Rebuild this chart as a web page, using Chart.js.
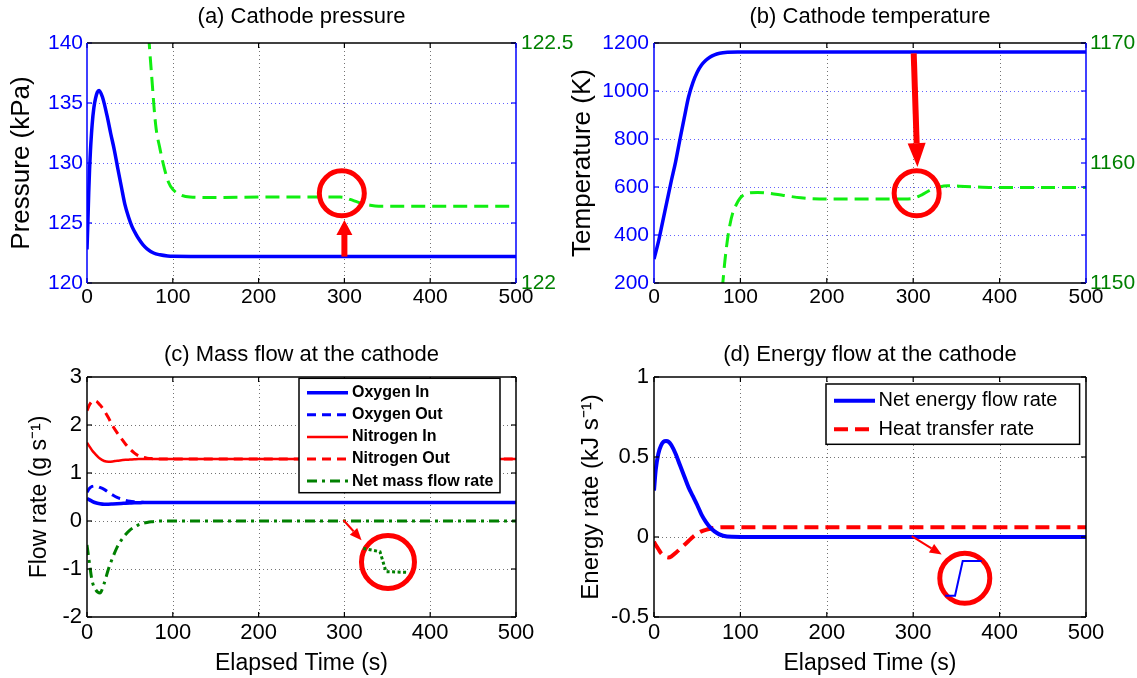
<!DOCTYPE html>
<html lang="en">
<head>
<meta charset="utf-8">
<script src="https://cdn.jsdelivr.net/npm/chart.js"></script>
<style>
  body { margin: 0; background: #fff; }
  #wrap { position: relative; width: 1137px; height: 678px; overflow: hidden; background: #fff; }
  canvas { position: absolute; }
</style>
</head>
<body>
<div id="wrap">
  <canvas id="chartA" width="600" height="339" style="left:0;top:0"></canvas>
  <canvas id="chartB" width="577" height="339" style="left:560px;top:0"></canvas>
  <canvas id="chartC" width="568" height="339" style="left:0;top:339px"></canvas>
  <canvas id="chartD" width="577" height="339" style="left:560px;top:339px"></canvas>
</div>
<script>
// (a) cathode pressure
const timeP = [0,1,2,3,4,6,8,10,12,14,18,23.5,27.5,31.8,36,40.1,44,48.4,52.5,56.8,61,65.1,70,77.6,85,94,100,150,200,250,300,350,400,450,500];
const pressureKPa = [122.8,125,127.5,129.5,131,133.2,134.6,135.4,135.9,136.05,135.5,133.9,132.5,131.1,129.5,128.0,126.6,125.5,124.7,124.1,123.6,123.2,122.85,122.5,122.35,122.25,122.22,122.2,122.2,122.2,122.2,122.2,122.2,122.2,122.2];
const timePz = [70,75,80,85,90,95,100,110,120,150,200,250,295,300,310,320,330,340,400,450,500];
const pressureZoom = [122.56,122.44,122.33,122.28,122.24,122.21,122.195,122.183,122.179,122.178,122.179,122.179,122.179,122.178,122.172,122.166,122.162,122.16,122.16,122.16,122.16];

// (b) cathode temperature
const timeT = [0,5,10,15,20,25,30,35,40,45,50,55,60,65,70,76,85,97,110,150,200,250,300,350,400,450,500];
const temperatureK = [300,370,455,540,625,705,798,888,975,1035,1078,1108,1128,1142,1151,1157,1161,1163,1163,1163,1163,1163,1163,1163,1163,1163,1163];
const timeTz = [79,82,85,88,91,95,100,105,110,120,130,150,170,200,250,290,300,310,320,330,340,360,400,450,500];
const temperatureZoom = [1149.5,1151.8,1153.6,1154.9,1155.8,1156.5,1157.1,1157.4,1157.5,1157.55,1157.5,1157.3,1157.1,1157.0,1157.0,1157.0,1157.05,1157.35,1157.75,1158.0,1158.1,1158.05,1157.95,1157.95,1157.95];

// (c) mass flow
const timeF = [0,3,6,10,15,20,25,30,35,40,45,50,55,60,65,70,75,80,90,100,150,200,250,300,350,400,450,500];
const oxygenIn = [0.47,0.44,0.41,0.38,0.36,0.35,0.35,0.355,0.36,0.365,0.37,0.375,0.38,0.38,0.385,0.385,0.385,0.385,0.385,0.385,0.385,0.385,0.385,0.385,0.385,0.385,0.385,0.385];
const oxygenOut = [0.6,0.68,0.72,0.73,0.7,0.66,0.6,0.54,0.49,0.46,0.43,0.41,0.4,0.395,0.39,0.385,0.385,0.385,0.385,0.385,0.385,0.385,0.385,0.385,0.385,0.385,0.385,0.385];
const nitrogenIn = [1.63,1.55,1.47,1.39,1.3,1.25,1.235,1.24,1.255,1.265,1.275,1.28,1.285,1.29,1.29,1.29,1.29,1.29,1.29,1.29,1.29,1.29,1.29,1.29,1.29,1.29,1.29,1.29];
const nitrogenOut = [2.3,2.42,2.49,2.5,2.42,2.3,2.15,1.98,1.84,1.72,1.6,1.5,1.42,1.36,1.33,1.31,1.3,1.295,1.29,1.29,1.29,1.29,1.29,1.29,1.29,1.29,1.29,1.29];
const netMassFlow = [-0.5,-0.9,-1.25,-1.43,-1.5,-1.3,-1.0,-0.76,-0.55,-0.4,-0.28,-0.19,-0.13,-0.08,-0.05,-0.03,-0.015,-0.005,0,0,0,0,0,0,0,0,0,0];

// (d) energy flow
const timeE = [0,2,5,8,11,14,17,20,25,30,35,40,45,50,55,60,65,70,75,80,90,100,150,200,250,300,350,400,450,500];
const netEnergy = [0.29,0.42,0.52,0.57,0.595,0.6,0.595,0.575,0.52,0.45,0.38,0.31,0.255,0.2,0.14,0.095,0.06,0.035,0.018,0.008,0.001,0,0,0,0,0,0,0,0,0];
const heatTransfer = [-0.03,-0.05,-0.075,-0.1,-0.115,-0.125,-0.128,-0.122,-0.1,-0.075,-0.05,-0.025,0,0.02,0.035,0.045,0.052,0.057,0.06,0.061,0.061,0.061,0.061,0.061,0.061,0.061,0.061,0.061,0.061,0.061];

Chart.defaults.font.family = '"Liberation Sans", Arial, Helvetica, sans-serif';
const FAMILY = Chart.defaults.font.family;
const BLUE = '#0000ff', RED = '#ff0000', LIME = '#11ee11', DKGREEN = '#008000';

function series(times, values) {
  return times.map((t, i) => ({ x: t, y: values[i] }));
}
function lineSet(label, times, values, color, width, dash, axis) {
  return {
    label: label, data: series(times, values), borderColor: color, borderWidth: width,
    borderDash: dash || [], pointRadius: 0, fill: false, cubicInterpolationMode: 'monotone',
    borderCapStyle: 'butt', yAxisID: axis || 'y'
  };
}
function line(ctx, x1, y1, x2, y2) {
  ctx.beginPath(); ctx.moveTo(x1, y1); ctx.lineTo(x2, y2); ctx.stroke();
}

function axisX(size, pad, height, title) {
  const ax = {
    type: 'linear', min: 0, max: 500,
    ticks: { stepSize: 100, font: { size: size }, color: '#000', padding: pad, maxRotation: 0, autoSkip: false, callback: v => String(v) },
    grid: { display: false, drawTicks: false }, border: { display: false },
    afterFit(s) { s.height = height; }
  };
  if (title) ax.title = { display: true, text: title, font: { size: 23 }, color: '#000', padding: { top: 0, bottom: 1 } };
  return ax;
}
function axisY(pos, min, max, step, color, size, pad, width, title, titleSize, titlePad) {
  const ax = {
    type: 'linear', position: pos, min: min, max: max,
    ticks: { stepSize: step, font: { size: size }, color: color, padding: pad, autoSkip: false, callback: v => String(v) },
    grid: { display: false, drawTicks: false }, border: { display: false },
    afterFit(s) { s.width = width; }
  };
  if (title) ax.title = { display: true, text: title, font: { size: titleSize }, color: '#000', padding: { top: titlePad, bottom: 0 } };
  return ax;
}
function titleOpts(text, pt, pb) {
  return { display: true, text: text, font: { size: 22, weight: 'normal' }, color: '#000', padding: { top: pt, bottom: pb }, fullSize: false };
}

// dotted grid, inward ticks and the axes box
function framePlugin(cfg) {
  return {
    id: 'frame',
    beforeDatasetsDraw(chart) {
      const { ctx, chartArea: a, scales } = chart;
      ctx.save();
      ctx.lineWidth = 1;
      ctx.setLineDash([1, 3]);
      ctx.strokeStyle = cfg.gridX;
      for (const t of scales.x.ticks) {
        const px = Math.round(scales.x.getPixelForValue(t.value)) + 0.5;
        if (px < a.left + 2 || px > a.right - 2) continue;
        line(ctx, px, a.top, px, a.bottom);
      }
      ctx.strokeStyle = cfg.gridY;
      for (const t of scales.y.ticks) {
        const py = Math.round(scales.y.getPixelForValue(t.value)) + 0.5;
        if (py < a.top + 2 || py > a.bottom - 2) continue;
        line(ctx, a.left, py, a.right, py);
      }
      ctx.restore();
    },
    afterDatasetsDraw(chart) {
      const { ctx, chartArea: a, scales } = chart;
      const tk = 5;
      ctx.save();
      ctx.setLineDash([]);
      ctx.lineWidth = 1.2;
      ctx.strokeStyle = '#000';
      for (const t of scales.x.ticks) {
        const px = scales.x.getPixelForValue(t.value);
        line(ctx, px, a.bottom, px, a.bottom - tk);
        line(ctx, px, a.top, px, a.top + tk);
      }
      ctx.strokeStyle = cfg.left;
      for (const t of scales.y.ticks) {
        const py = scales.y.getPixelForValue(t.value);
        line(ctx, a.left, py, a.left + tk, py);
        line(ctx, a.right, py, a.right - tk, py);
      }
      if (scales.y2) {
        ctx.strokeStyle = cfg.right;
        for (const t of scales.y2.ticks) {
          const py = scales.y2.getPixelForValue(t.value);
          line(ctx, a.right, py, a.right - tk, py);
        }
      }
      ctx.lineWidth = 1.5;
      ctx.strokeStyle = '#000';
      line(ctx, a.left, a.top, a.right, a.top);
      line(ctx, a.left, a.bottom, a.right, a.bottom);
      ctx.strokeStyle = cfg.left;
      line(ctx, a.left, a.top, a.left, a.bottom);
      ctx.strokeStyle = cfg.right;
      line(ctx, a.right, a.top, a.right, a.bottom);
      ctx.restore();
    }
  };
}

// red circles, arrows and the small zoomed steps, placed in data units
function notesPlugin(notes) {
  return {
    id: 'notes',
    afterDatasetsDraw(chart) {
      const { ctx, scales } = chart;
      const X = v => scales.x.getPixelForValue(v);
      ctx.save();
      for (const n of notes) {
        const Y = v => scales[n.axis || 'y'].getPixelForValue(v);
        ctx.strokeStyle = n.color; ctx.fillStyle = n.color;
        ctx.lineWidth = n.width; ctx.setLineDash(n.dash || []);
        if (n.type === 'circle') {
          ctx.beginPath(); ctx.arc(X(n.x), Y(n.y), n.r, 0, Math.PI * 2); ctx.stroke();
        } else if (n.type === 'path') {
          ctx.beginPath();
          n.points.forEach((p, i) => i ? ctx.lineTo(X(p[0]), Y(p[1])) : ctx.moveTo(X(p[0]), Y(p[1])));
          ctx.stroke();
        } else if (n.type === 'arrow') {
          const x1 = X(n.x1), y1 = Y(n.y1), x2 = X(n.x2), y2 = Y(n.y2);
          const ang = Math.atan2(y2 - y1, x2 - x1);
          const bx = x2 - n.headLen * Math.cos(ang), by = y2 - n.headLen * Math.sin(ang);
          line(ctx, x1, y1, bx, by);
          const hw = n.headWidth / 2;
          ctx.beginPath();
          ctx.moveTo(x2, y2);
          ctx.lineTo(bx + hw * Math.sin(ang), by - hw * Math.cos(ang));
          ctx.lineTo(bx - hw * Math.sin(ang), by + hw * Math.cos(ang));
          ctx.closePath(); ctx.fill();
        }
      }
      ctx.restore();
    }
  };
}

// MATLAB style boxed legend in the upper right of the axes
function boxLegendPlugin(cfg) {
  return {
    id: 'boxLegend',
    afterDraw(chart) {
      const { ctx, chartArea: a } = chart;
      const left = a.right - cfg.dx - cfg.w, top = a.top + cfg.dy;
      ctx.save();
      ctx.fillStyle = '#fff';
      ctx.fillRect(left, top, cfg.w, cfg.h);
      ctx.lineWidth = 1.5; ctx.strokeStyle = '#000'; ctx.setLineDash([]);
      ctx.strokeRect(left, top, cfg.w, cfg.h);
      ctx.font = cfg.font; ctx.textBaseline = 'middle'; ctx.textAlign = 'left';
      chart.data.datasets.forEach((ds, i) => {
        const y = top + cfg.row0 + i * cfg.step;
        ctx.strokeStyle = ds.borderColor; ctx.lineWidth = ds.borderWidth; ctx.setLineDash(ds.borderDash || []);
        line(ctx, left + cfg.sx, y, left + cfg.sx + cfg.slen, y);
        ctx.fillStyle = '#000';
        ctx.fillText(ds.label, left + cfg.tx, y);
      });
      ctx.restore();
    }
  };
}

const baseOpts = { responsive: false, animation: false, devicePixelRatio: 1, events: [] };

// (a)
new Chart(document.getElementById('chartA'), {
  type: 'line',
  data: { datasets: [
    lineSet('Pressure', timeP, pressureKPa, BLUE, 3.5),
    lineSet('Pressure (zoom)', timePz, pressureZoom, LIME, 3, [14, 7], 'y2')
  ] },
  options: Object.assign({}, baseOpts, {
    layout: { padding: 0 },
    plugins: { legend: { display: false }, tooltip: { enabled: false }, title: titleOpts('(a) Cathode pressure', 3.8, 12.8) },
    scales: {
      x: axisX(21, 1.5, 56),
      y: axisY('left', 120, 140, 5, BLUE, 21, 4, 87, 'Pressure (kPa)', 26, 6),
      y2: axisY('right', 122, 122.5, 0.5, DKGREEN, 21, 5, 84)
    }
  }),
  plugins: [
    framePlugin({ gridX: 'rgba(0,0,0,0.55)', gridY: 'rgba(70,70,255,0.85)', left: BLUE, right: BLUE }),
    notesPlugin([
      { type: 'circle', x: 297, y: 127.47, r: 22.5, width: 5, color: RED },
      { type: 'arrow', x1: 300, y1: 122.2, x2: 300, y2: 125.25, width: 6, headLen: 15, headWidth: 16, color: RED }
    ])
  ]
});

// (b)
new Chart(document.getElementById('chartB'), {
  type: 'line',
  data: { datasets: [
    lineSet('Temperature', timeT, temperatureK, BLUE, 3.5),
    lineSet('Temperature (zoom)', timeTz, temperatureZoom, LIME, 3, [14, 7], 'y2')
  ] },
  options: Object.assign({}, baseOpts, {
    layout: { padding: 0 },
    plugins: { legend: { display: false }, tooltip: { enabled: false }, title: titleOpts('(b) Cathode temperature', 3.8, 12.8) },
    scales: {
      x: axisX(21, 1.5, 56),
      y: axisY('left', 200, 1200, 200, BLUE, 21, 5, 94, 'Temperature (K)', 26, 7.4),
      y2: axisY('right', 1150, 1170, 10, DKGREEN, 21, 4, 51)
    }
  }),
  plugins: [
    framePlugin({ gridX: 'rgba(0,0,0,0.55)', gridY: 'rgba(70,70,255,0.85)', left: BLUE, right: BLUE }),
    notesPlugin([
      { type: 'circle', x: 304, y: 574, r: 22.5, width: 5, color: RED },
      { type: 'arrow', x1: 300.6, y1: 1157, x2: 304.9, y2: 683, width: 6, headLen: 24, headWidth: 18, color: RED }
    ])
  ]
});

// (c)
new Chart(document.getElementById('chartC'), {
  type: 'line',
  data: { datasets: [
    lineSet('Oxygen In', timeF, oxygenIn, BLUE, 3.5),
    lineSet('Oxygen Out', timeF, oxygenOut, BLUE, 3, [9, 6]),
    lineSet('Nitrogen In', timeF, nitrogenIn, RED, 2.5),
    lineSet('Nitrogen Out', timeF, nitrogenOut, RED, 3, [9, 6]),
    lineSet('Net mass flow rate', timeF, netMassFlow, DKGREEN, 3, [10, 5, 3, 5])
  ] },
  options: Object.assign({}, baseOpts, {
    layout: { padding: { left: 0, right: 52, top: 0, bottom: 0 } },
    plugins: { legend: { display: false }, tooltip: { enabled: false }, title: titleOpts('(c) Mass flow at the cathode', 2.8, 8.8) },
    scales: {
      x: axisX(22, 2.5, 61, 'Elapsed Time (s)'),
      y: axisY('left', -2, 3, 1, '#000', 22, 5, 87, 'Flow rate (g s\u207B\u00B9)', 23, 26)
    }
  }),
  plugins: [
    framePlugin({ gridX: 'rgba(0,0,0,0.55)', gridY: 'rgba(0,0,0,0.55)', left: '#000', right: '#000' }),
    notesPlugin([
      { type: 'arrow', x1: 298.8, y1: 0.02, x2: 320, y2: -0.4, width: 2, headLen: 12, headWidth: 10, color: RED },
      { type: 'circle', x: 350.8, y: -0.854, r: 26.5, width: 5, color: RED },
      { type: 'path', points: [[322, -0.569], [341.5, -0.64], [348.5, -1.056], [372.6, -1.069]], width: 3, dash: [3, 2.5], color: DKGREEN }
    ]),
    boxLegendPlugin({ dx: 16, dy: 1.3, w: 201, h: 114.4, row0: 14.4, step: 22.1, sx: 8, slen: 41, tx: 53, font: 'bold 16px ' + FAMILY })
  ]
});

// (d)
new Chart(document.getElementById('chartD'), {
  type: 'line',
  data: { datasets: [
    lineSet('Net energy flow rate', timeE, netEnergy, BLUE, 4),
    lineSet('Heat transfer rate', timeE, heatTransfer, RED, 4, [14, 7])
  ] },
  options: Object.assign({}, baseOpts, {
    layout: { padding: { left: 0, right: 51, top: 0, bottom: 0 } },
    plugins: { legend: { display: false }, tooltip: { enabled: false }, title: titleOpts('(d) Energy flow at the cathode', 2.8, 8.8) },
    scales: {
      x: axisX(22, 2.5, 61, 'Elapsed Time (s)'),
      y: axisY('left', -0.5, 1, 0.5, '#000', 22, 5, 94, 'Energy rate (kJ s\u207B\u00B9)', 24, 17)
    }
  }),
  plugins: [
    framePlugin({ gridX: 'rgba(0,0,0,0.55)', gridY: 'rgba(0,0,0,0.55)', left: '#000', right: '#000' }),
    notesPlugin([
      { type: 'arrow', x1: 298.3, y1: 0.006, x2: 333, y2: -0.11, width: 2, headLen: 12, headWidth: 10, color: RED },
      { type: 'circle', x: 359.7, y: -0.258, r: 25, width: 5, color: RED },
      { type: 'path', points: [[337, -0.367], [348.4, -0.367], [357.3, -0.15], [379.3, -0.15]], width: 2, color: BLUE }
    ]),
    boxLegendPlugin({ dx: 6.4, dy: 7, w: 253.6, h: 60.3, row0: 16.7, step: 28.6, sx: 8, slen: 41, tx: 52.5, font: '20px ' + FAMILY })
  ]
});
</script>
</body>
</html>
